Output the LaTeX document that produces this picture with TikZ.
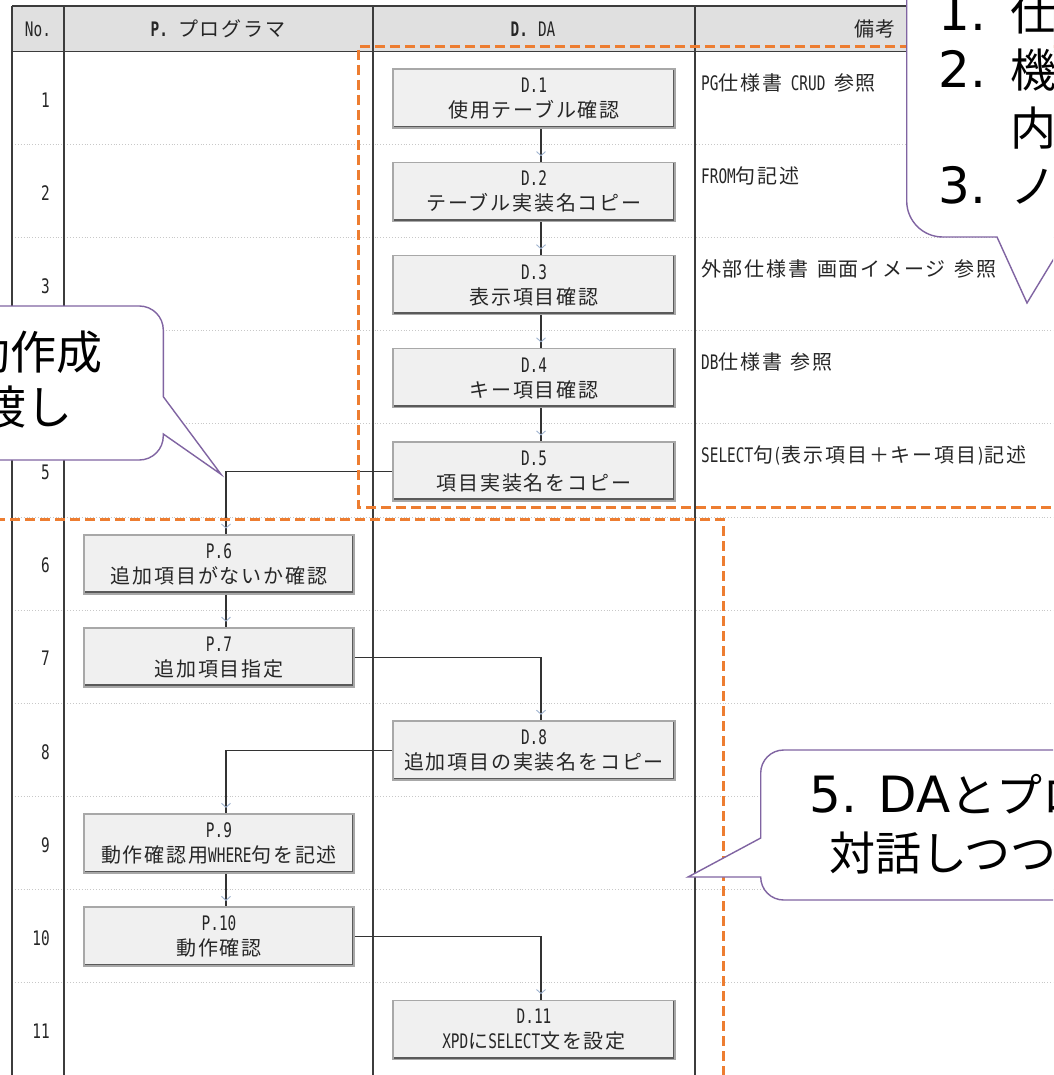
\documentclass[tikz,border=0pt]{standalone}
\usepackage{fontspec}
\setmainfont{Noto Sans CJK JP}
\newfontfamily\jpf{Noto Sans CJK JP}
\newfontfamily\tabjp[LetterSpace=9]{Noto Sans CJK JP}
\newfontfamily\dvf{DejaVu Sans}
\newfontfamily\latf[FakeStretch=0.72]{DejaVu Sans Mono}
\usetikzlibrary{calc,decorations.markings}
\definecolor{hdr}{HTML}{E0E0E0}
\definecolor{gridc}{HTML}{3C3C3C}
\definecolor{dotc}{HTML}{C8C8C8}
\definecolor{boxfill}{HTML}{F0F0F0}
\definecolor{boxedge}{HTML}{A8A8A8}
\definecolor{boxdark}{HTML}{5A5A5A}
\definecolor{linec}{HTML}{333333}
\definecolor{chevc}{HTML}{9FB3CF}
\definecolor{orng}{HTML}{ED7D31}
\definecolor{purp}{HTML}{8064A2}
\newcommand\tabsz{\tabjp\fontsize{20}{25}\selectfont}
\newcommand\cjkbig{\jpf\fontsize{46}{57}\selectfont}
\newcommand\latbig{\dvf\fontsize{50}{57}\selectfont}
\newcommand\mlat[1]{{\latf #1}}
\begin{document}
\begin{tikzpicture}[x=1pt,y=-1pt,
  box/.style={draw=boxedge, fill=boxfill, line width=1.6pt, minimum height=59pt,
    align=center, inner sep=0pt, font=\tabsz, text=black!85,
    path picture={\draw[line width=5pt, boxdark]
      (path picture bounding box.south west) -- (path picture bounding box.south east)
      -- (path picture bounding box.north east);}},
  dbox/.style={box, minimum width=282pt},
  pbox/.style={box, minimum width=270pt},
  conn/.style={draw=linec, line width=1.1pt, postaction={decorate, decoration={markings,
    mark=at position -6pt with {\draw[chevc, line width=0.9pt] (-4pt,4.5pt) -- (0pt,0pt) -- (-4pt,-4.5pt);}}}},
  grid/.style={gridc, line width=1.3pt},
  sep/.style={dotc, dotted, line width=0.9pt},
  remark/.style={anchor=west, font=\tabsz, text=black!85, inner sep=0pt},
  rownum/.style={anchor=east, font=\tabsz, text=black!85, inner sep=0pt},
  head/.style={font=\tabsz, text=black!85, inner sep=0pt},
  zone/.style={orng, line width=3pt, dash pattern=on 10pt off 5pt},
  callout/.style={purp, line width=1.4pt, fill=white},
  ctext/.style={inner sep=0pt, text=black}
]
\useasboundingbox (0,0) rectangle (1053,1075);
\clip (0,0) rectangle (1053,1075);
\fill[white] (0,0) rectangle (1053,1075);
% header
\fill[hdr] (12,6) rectangle (1060,51.5);
\foreach \k in {1,...,10} \draw[sep] (12,{51.5+93.1*\k}) -- (1060,{51.5+93.1*\k});
\draw[grid] (12,6) -- (1060,6);
\draw[gridc, line width=1.8pt] (12,51.5) -- (1060,51.5);
\foreach \x in {12,64,373,695} \draw[grid] (\x,6) -- (\x,1080);
\node[head] (hno) at (38,29) {\mlat{No.}};
\node[head] (hp) at (218,29) {{\latf\bfseries P.}\hspace{10pt}プログラマ};
\node[head] (hd) at (533,29) {{\latf\bfseries D.}\hspace{10pt}\mlat{DA}};
\node[head] (hb) at (875,29) {備考};
% row numbers
\foreach \k in {1,...,11} \node[rownum] (n\k) at (50,{51.5+93.1*(\k-0.5)+2}) {\mlat{\k}};
% boxes
\node[dbox] (d1) at (534,98.8) {\mlat{D.1}\\使用テーブル確認};
\node[dbox] (d2) at (534,191.9) {\mlat{D.2}\\テーブル実装名コピー};
\node[dbox] (d3) at (534,285.0) {\mlat{D.3}\\表示項目確認};
\node[dbox] (d4) at (534,378.1) {\mlat{D.4}\\キー項目確認};
\node[dbox] (d5) at (534,471.2) {\mlat{D.5}\\項目実装名をコピー};
\node[pbox] (p6) at (219,564.3) {\mlat{P.6}\\追加項目がないか確認};
\node[pbox] (p7) at (219,657.4) {\mlat{P.7}\\追加項目指定};
\node[dbox] (d8) at (534,750.5) {\mlat{D.8}\\追加項目の実装名をコピー};
\node[pbox] (p9) at (219,843.6) {\mlat{P.9}\\動作確認用\mlat{WHERE}句を記述};
\node[pbox] (p10) at (219,936.7) {\mlat{P.10}\\動作確認};
\node[dbox] (d11) at (534,1029.8) {\mlat{D.11}\\\mlat{XPD}に\mlat{SELECT}文を設定};
% remarks
\node[remark] (r1) at (701,83) {\mlat{PG}仕様書\mlat{ CRUD }参照};
\node[remark] (r2) at (701,176.1) {\mlat{FROM}句記述};
\node[remark] (r3) at (701,269.2) {外部仕様書\mlat{ }画面イメージ\mlat{ }参照};
\node[remark] (r4) at (701,362.3) {\mlat{DB}仕様書\mlat{ }参照};
\node[remark] (r5) at (701,455.4) {\mlat{SELECT}句\mlat{(}表示項目＋キー項目\mlat{)}記述};
% connectors
\draw[conn] ($(d1.south)+(7,0)$) -- ($(d2.north)+(7,0)$);
\draw[conn] ($(d2.south)+(7,0)$) -- ($(d3.north)+(7,0)$);
\draw[conn] ($(d3.south)+(7,0)$) -- ($(d4.north)+(7,0)$);
\draw[conn] ($(d4.south)+(7,0)$) -- ($(d5.north)+(7,0)$);
\draw[conn] (d5.west) -| ($(p6.north)+(7,0)$);
\draw[conn] ($(p6.south)+(7,0)$) -- ($(p7.north)+(7,0)$);
\draw[conn] (p7.east) -| ($(d8.north)+(7,0)$);
\draw[conn] (d8.west) -| ($(p9.north)+(7,0)$);
\draw[conn] ($(p9.south)+(7,0)$) -- ($(p10.north)+(7,0)$);
\draw[conn] (p10.east) -| ($(d11.north)+(7,0)$);
% orange zones
\draw[zone] (1060,46.5) -- (358.5,46.5) -- (358.5,507.5) -- (1060,507.5);
\draw[zone] (-5,519) -- (723,519) -- (723,1080);
% callouts
\draw[callout] (1070,-20) -- (906.7,-20) -- (906.7,201) arc[start angle=180,end angle=270,radius=36pt]
  -- (997,237) -- (1027,303) -- (1067,237) -- (1070,237) -- cycle;
\draw[callout] (-20,306) -- (139.3,306) arc[start angle=90,end angle=0,radius=24pt]
  -- (163.3,396.7) -- (221,474.3) -- (163.3,434) -- (163.3,436)
  arc[start angle=0,end angle=-90,radius=24pt] -- (-20,460) -- cycle;
\draw[callout] (1070,750) -- (783.7,750) arc[start angle=90,end angle=180,radius=23pt]
  -- (760.7,838) -- (688,877) -- (760.7,877) arc[start angle=180,end angle=270,radius=23pt]
  -- (1070,900) -- cycle;
% callout texts
\node[ctext, anchor=base west] (c1a) at (938,31) {\makebox[72pt][l]{\latbig 1.}\cjkbig 仕};
\node[ctext, anchor=base west] (c1b) at (938,88) {\makebox[72pt][l]{\latbig 2.}\cjkbig 機};
\node[ctext, anchor=base west] (c1c) at (1010,146) {\cjkbig 内};
\node[ctext, anchor=base west] (c1d) at (938,204) {\makebox[72pt][l]{\latbig 3.}\cjkbig ノ};
\node[ctext, anchor=base east] (c2a) at (103,369) {\cjkbig 動作成};
\node[ctext, anchor=base east] (c2b) at (73,424) {\cjkbig 渡し};
\node[ctext, anchor=base west] (c3a) at (809.5,812) {{\latbig 5. DA}\cjkbig とプロ};
\node[ctext, anchor=base west] (c3b) at (829,870) {\cjkbig 対話しつつ};
\end{tikzpicture}
\end{document}
